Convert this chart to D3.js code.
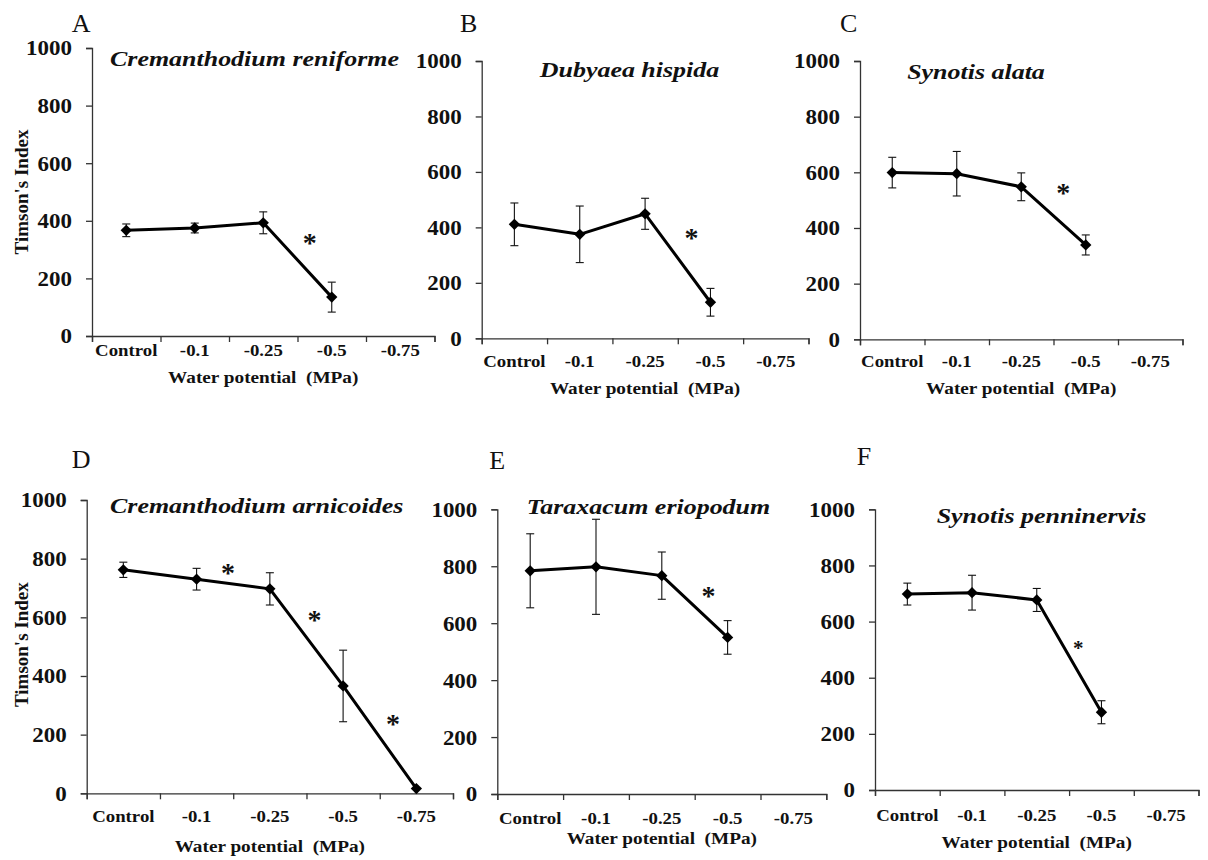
<!DOCTYPE html>
<html lang="en">
<head>
<meta charset="UTF-8">
<title>Timson's Index</title>
<script src="https://d3js.org/d3.v7.min.js"></script>
<style>
  body { margin: 0; background: #fff; }
  svg { display: block; }
  svg text { font-family: "Times New Roman", "Liberation Serif", Tinos, serif !important; fill: #111; }
</style>
</head>
<body>
<div id="chart"></div>
<script>
    const W = 1208;
    const H = 860;

    // data
    const categories = ["Control", "-0.1", "-0.25", "-0.5", "-0.75"];
    const yTicks = [0, 200, 400, 600, 800, 1000];
    const letters = ["A", "B", "C", "D", "E", "F"];
    const species = ["Cremanthodium reniforme", "Dubyaea hispida", "Synotis alata",
        "Cremanthodium arnicoides", "Taraxacum eriopodum", "Synotis penninervis"];

    const meanA = [367, 375, 393, 135];
    const errA = [22, 17, 38, 52];
    const meanB = [411, 375, 449, 130];
    const errB = [77, 102, 56, 50];
    const meanC = [599, 595, 548, 339];
    const errC = [55, 80, 50, 36];
    const meanD = [762, 730, 697, 366, 16];
    const errD = [26, 37, 55, 122, 0];
    const meanE = [784, 798, 767, 550];
    const errE = [130, 167, 83, 59];
    const meanF = [698, 703, 677, 277];
    const errF = [39, 62, 41, 41];

    // significance stars: [position along category axis, value]
    const starsA = [[3.18, 340]];
    const starsB = [[3.21, 379]];
    const starsC = [[3.15, 543]];
    const starsD = [[1.93, 767], [3.11, 608], [4.18, 253]];
    const starsE = [[3.21, 714]];
    const starsF = [[3.14, 520]];

    const means = [meanA, meanB, meanC, meanD, meanE, meanF];
    const errs = [errA, errB, errC, errD, errE, errF];
    const stars = [starsA, starsB, starsC, starsD, starsE, starsF];

    // panel frames (plot area) and text placement
    const frames = [
        { x0: 92, x1: 434.5, yT: 48, yB: 336, tickDy: 20, labDy: 47, letter: [71.7, 31.7], title: [110, 66, "start"], ylab: true, starSize: 28 },
        { x0: 481.7, x1: 808.5, yT: 61, yB: 338.3, tickDy: 29, labDy: 56, letter: [460, 31.7], title: [629.5, 77, "middle"], ylab: false, starSize: 28 },
        { x0: 860, x1: 1182.5, yT: 61, yB: 339.3, tickDy: 28, labDy: 55, letter: [840, 31.7], title: [976, 79, "middle"], ylab: false, starSize: 28 },
        { x0: 86.7, x1: 453, yT: 500, yB: 793.3, tickDy: 29, labDy: 59, letter: [71.7, 468.3], title: [110, 512.7, "start"], ylab: true, starSize: 28 },
        { x0: 497.3, x1: 826.3, yT: 509.3, yB: 794, tickDy: 30, labDy: 50, letter: [489.3, 469.3], title: [648.5, 514, "middle"], ylab: false, starSize: 28 },
        { x0: 875, x1: 1198.5, yT: 509.3, yB: 790, tickDy: 31, labDy: 58, letter: [856.7, 465], title: [1041.5, 522.5, "middle"], ylab: false, starSize: 21 }
    ];

    const svg = d3.select("#chart")
        .append("svg")
        .attr("width", W)
        .attr("height", H);

    // places a text with a horizontal stretch (the figure is a bit wide)
    function stretched(g, x, y, str, sx) {
        return g.append("text")
            .attr("transform", `translate(${x},${y}) scale(${sx},1)`)
            .text(str);
    }

    frames.forEach((f, p) => {
        const g = svg.append("g");
        const y = d3.scaleLinear().domain([0, 1000]).range([f.yB, f.yT]);
        const xl = d3.scaleLinear().domain([0, categories.length]).range([f.x0, f.x1]);
        const xb = d3.scaleBand().domain(categories).range([f.x0, f.x1]);

        // y axis
        const ya = g.append("g")
            .attr("transform", `translate(${f.x0},0)`)
            .call(d3.axisLeft(y).tickValues(yTicks).tickSize(6).tickFormat(d3.format("d")));
        ya.attr("font-family", null);
        ya.select(".domain").attr("stroke", "#333").attr("stroke-width", 1.3);
        ya.selectAll(".tick line").attr("stroke", "#333").attr("stroke-width", 1.3);
        ya.selectAll(".tick text")
            .attr("x", null)
            .attr("dy", "0.34em")
            .attr("transform", "translate(-20,0) scale(1.12,1)")
            .attr("text-anchor", "end")
            .style("font-size", "20.5px")
            .style("font-weight", "bold")
            .attr("fill", "#111");

        // x axis: ticks between categories
        const xa = g.append("g")
            .attr("transform", `translate(0,${f.yB})`)
            .call(d3.axisBottom(xl).tickValues(d3.range(categories.length + 1)).tickSize(6).tickFormat(""));
        xa.select(".domain").attr("stroke", "#333").attr("stroke-width", 1.3);
        xa.selectAll(".tick line").attr("stroke", "#333").attr("stroke-width", 1.3);

        // x category labels centred in each band
        const xc = g.append("g")
            .attr("transform", `translate(0,${f.yB})`)
            .call(d3.axisBottom(xb).tickSize(0).tickPadding(0));
        xc.attr("font-family", null);
        xc.select(".domain").remove();
        xc.selectAll(".tick text")
            .attr("y", null)
            .attr("dy", null)
            .attr("transform", `translate(0,${f.tickDy}) scale(1.14,1)`)
            .style("font-size", "16.5px")
            .style("font-weight", "bold")
            .attr("fill", "#111");

        // axis title
        stretched(g, (f.x0 + f.x1) / 2, f.yB + f.labDy, "Water potential  (MPa)", 1.1)
            .attr("text-anchor", "middle")
            .style("font-size", "17.5px")
            .style("font-weight", "bold")
            .style("white-space", "pre");

        if (f.ylab) {
            g.append("text")
                .attr("transform", `translate(28,${(f.yT + f.yB) / 2 + (p === 0 ? 0 : -2)}) rotate(-90)`)
                .attr("text-anchor", "middle")
                .style("font-size", "19px")
                .style("font-weight", "bold")
                .text("Timson's Index");
        }

        // panel letter
        g.append("text")
            .attr("x", f.letter[0])
            .attr("y", f.letter[1])
            .style("font-size", "26px")
            .text(letters[p]);

        // species name
        stretched(g, f.title[0], f.title[1], species[p], 1.18)
            .attr("text-anchor", f.title[2])
            .style("font-size", "22px")
            .style("font-weight", "bold")
            .style("font-style", "italic");

        // error bars
        const pts = means[p].map((m, i) => ({ x: xb(categories[i]) + xb.bandwidth() / 2, m, e: errs[p][i] }));
        const eb = g.append("g").attr("stroke", "#111").attr("stroke-width", 1.1);
        pts.filter(d => d.e > 0).forEach(d => {
            eb.append("line").attr("x1", d.x).attr("x2", d.x).attr("y1", y(d.m - d.e)).attr("y2", y(d.m + d.e));
            eb.append("line").attr("x1", d.x - 4).attr("x2", d.x + 4).attr("y1", y(d.m - d.e)).attr("y2", y(d.m - d.e));
            eb.append("line").attr("x1", d.x - 4).attr("x2", d.x + 4).attr("y1", y(d.m + d.e)).attr("y2", y(d.m + d.e));
        });

        // mean line
        g.append("path")
            .datum(pts)
            .attr("fill", "none")
            .attr("stroke", "#000")
            .attr("stroke-width", 3)
            .attr("stroke-linejoin", "round")
            .attr("d", d3.line().x(d => d.x).y(d => y(d.m)));

        // diamond markers
        g.selectAll(".mk")
            .data(pts)
            .join("path")
            .attr("class", "mk")
            .attr("transform", d => `translate(${d.x},${y(d.m)}) rotate(45)`)
            .attr("d", d3.symbol(d3.symbolSquare, 64))
            .attr("fill", "#000");

        // significance stars
        g.selectAll(".star")
            .data(stars[p])
            .join("text")
            .attr("class", "star")
            .attr("x", d => xl(d[0]))
            .attr("y", d => y(d[1]) + f.starSize * 0.5)
            .attr("text-anchor", "middle")
            .style("font-size", f.starSize + "px")
            .style("font-weight", "bold")
            .text("*");
    });
</script>
</body>
</html>
